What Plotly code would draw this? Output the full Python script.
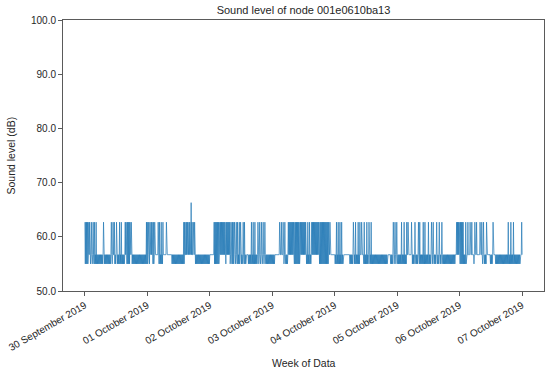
import plotly.graph_objects as go
from datetime import datetime, timedelta

# ---------------- data ----------------
START = datetime(2019, 9, 30)
N_HOURS = 168          # one week of readings
STEP_MIN = 10          # reading interval in minutes

BASE_DB = 56.7
LOW_DB = 55.0
HIGH_DB = 62.7
SPIKE_DB = 66.3
SPIKE_HOUR = 40.9

# bursts of high readings: (start hour, end hour, number of high readings)
high_bursts = [
    (0.0, 1.8, 6), (2.5, 3.7, 3), (4.4, 4.4, 1), (7.2, 7.2, 1),
    (10.2, 10.8, 2), (11.4, 12.1, 2), (13.3, 14.0, 2), (15.5, 17.8, 7),
    (23.6, 26.8, 8), (28.1, 30.0, 4), (31.3, 31.3, 1), (38.0, 40.3, 7),
    (41.2, 42.2, 3), (49.6, 55.7, 18), (55.7, 57.5, 5), (58.2, 59.8, 4),
    (60.8, 61.4, 2), (64.0, 65.3, 3), (66.5, 67.8, 3), (68.5, 69.1, 2),
    (74.9, 76.8, 4), (78.1, 84.9, 20), (84.9, 87.1, 4), (87.1, 94.1, 21),
    (96.7, 98.6, 4), (103.1, 105.0, 3), (105.7, 106.3, 2), (107.4, 110.0, 4),
    (118.5, 119.8, 3), (121.7, 123.6, 3), (124.2, 125.5, 2), (126.8, 128.1, 2),
    (128.7, 130.0, 2), (130.7, 132.0, 2), (133.2, 133.9, 2), (135.2, 137.1, 3),
    (142.8, 145.4, 8), (145.4, 148.0, 4), (148.6, 149.9, 2), (150.5, 151.8, 2),
    (152.5, 153.1, 2), (154.4, 154.4, 1), (156.9, 156.9, 1), (162.7, 164.6, 3),
    (167.8, 167.8, 1),
]

# spans where readings drop between 55.0 and 56.7 dB: (start hour, end hour)
low_spans = [
    (0.0, 10.8), (11.4, 17.2), (17.8, 24.9), (25.5, 26.8), (28.1, 30.0),
    (33.2, 38.3), (39.0, 39.6), (42.2, 47.9), (49.8, 54.4), (55.7, 62.1),
    (62.7, 73.0), (76.0, 84.5), (84.5, 93.5), (96.0, 99.2), (101.8, 105.7),
    (107.0, 116.4), (117.2, 123.6), (125.5, 142.2), (143.5, 146.7),
    (149.2, 149.9), (152.5, 154.4), (155.8, 157.1), (157.6, 167.2),
]

day_ticks = [START + timedelta(days=d) for d in range(8)]
y_ticks = [50, 60, 70, 80, 90, 100]

# ---------------- build the series ----------------
n_slots = N_HOURS * 60 // STEP_MIN + 1
hours = [i * STEP_MIN / 60 for i in range(n_slots)]
values = []
for i, h in enumerate(hours):
    v = BASE_DB
    for s, e in low_spans:
        if s <= h <= e:
            v = LOW_DB if i % 2 else BASE_DB
            break
    values.append(v)
for s, e, n in high_bursts:
    for k in range(n):
        p = s if n == 1 else s + (e - s) * k / (n - 1)
        idx = min(n_slots - 1, round(p * 60 / STEP_MIN))
        values[idx] = HIGH_DB
values[round(SPIKE_HOUR * 60 / STEP_MIN)] = SPIKE_DB
times = [START + timedelta(hours=h) for h in hours]

# ---------------- figure ----------------
FONT = "Liberation Sans, Arial, sans-serif"
TXT = "#262626"
AX = "#5a5a5a"
W, H = 550, 373
ML, MR, MT, MB = 63, 6, 20, 82

fig = go.Figure(go.Scatter(
    x=times, y=values, mode="lines",
    line=dict(color="#1f77b4", width=0.7),
    showlegend=False,
))

fig.update_layout(
    width=W, height=H,
    margin=dict(l=ML, r=MR, t=MT, b=MB),
    paper_bgcolor="white", plot_bgcolor="white",
    font=dict(family=FONT, size=10, color=TXT),
    title=dict(text="Sound level of node 001e0610ba13", x=0.5, xref="paper",
               xanchor="center", y=1 - 10 / H, yref="container",
               yanchor="middle", font=dict(size=11, color=TXT)),
    annotations=[
        dict(text="Week of Data", xref="paper", yref="paper",
             x=0.5, y=-(363 - (H - MB)) / (H - MT - MB),
             xanchor="center", yanchor="middle", showarrow=False,
             font=dict(size=10.5, color=TXT)),
        dict(text="Sound level (dB)", xref="paper", yref="paper",
             x=-(ML - 10) / (W - ML - MR), y=0.5, textangle=-90,
             xanchor="center", yanchor="middle", showarrow=False,
             font=dict(size=10.5, color=TXT)),
    ],
)
fig.update_xaxes(
    type="date", automargin=False,
    range=[START - timedelta(days=0.35), START + timedelta(days=7.35)],
    tickvals=day_ticks, tickformat="%d %B %Y", tickangle=-30,
    ticks="outside", ticklen=4, tickcolor=AX,
    showline=True, linecolor=AX, linewidth=1, mirror=True,
    showgrid=False, zeroline=False,
    tickfont=dict(size=10),
)
fig.update_yaxes(
    automargin=False,
    range=[50, 100], tickvals=y_ticks, tickformat=".1f",
    ticks="outside", ticklen=4, tickcolor=AX,
    showline=True, linecolor=AX, linewidth=1, mirror=True,
    showgrid=False, zeroline=False,
    tickfont=dict(size=10),
)

fig.write_html(
    "out.html",
    config={"displayModeBar": False},
    post_script="document.body.style.margin='0';document.body.style.overflow='hidden';",
)
